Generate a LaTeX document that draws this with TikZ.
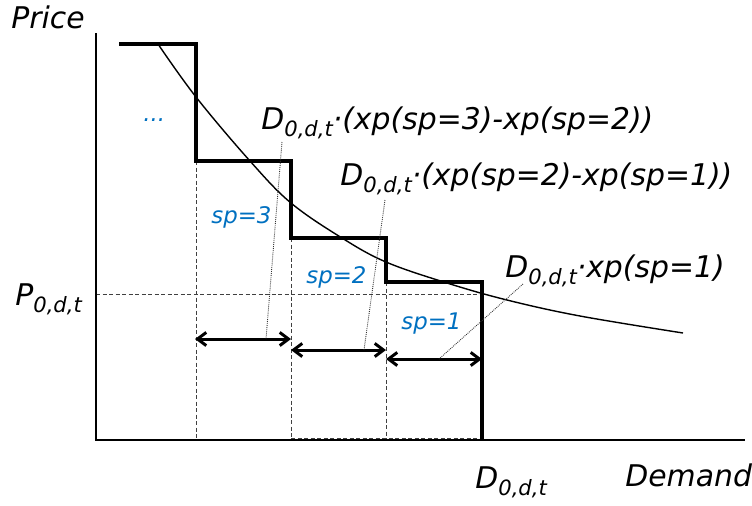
\documentclass[tikz,border=0pt]{standalone}
\usepackage{fontspec}
\setmainfont{DejaVu Sans}
\usetikzlibrary{arrows.meta}

\definecolor{spblue}{HTML}{0070C0}
\newcommand{\dsub}[1]{\raisebox{-4.5pt}{\fontsize{12}{14}\selectfont #1}}
\newcommand{\Dodt}{D\dsub{0,d,t}}

\begin{document}
\begin{tikzpicture}[x=0.02cm, y=-0.02cm,
    axisline/.style={line width=1.5pt},
    stepline/.style={line width=1.8pt},
    guide/.style={line width=0.55pt, dash pattern=on 2.3pt off 1.4pt, black!75},
    leader/.style={line width=0.5pt, dash pattern=on 0.5pt off 0.6pt, black!80},
    dimarrow/.style={line width=1.7pt,
      {Straight Barb[length=5pt,width=7.5pt]}-{Straight Barb[length=5pt,width=7.5pt]}},
    biglabel/.style={font=\fontsize{17}{20}\selectfont\itshape, inner sep=0pt, anchor=base west},
    splabel/.style={font=\fontsize{13}{15}\selectfont\itshape, text=spblue, inner sep=0pt, anchor=base west}]

  \useasboundingbox (0,0) rectangle (752,505);

  % axes and step corners
  \coordinate (o)    at (96,440);
  \coordinate (ytop) at (96,33);
  \coordinate (xend) at (745,440);
  \coordinate (s1) at (119,44);
  \coordinate (s2) at (196,44);
  \coordinate (s3) at (196,161);
  \coordinate (s4) at (291,161);
  \coordinate (s5) at (291,238);
  \coordinate (s6) at (386,238);
  \coordinate (s7) at (386,282);
  \coordinate (s8) at (482,282);
  \coordinate (s9) at (482,440);
  \coordinate (p1) at (96,294);
  \coordinate (p2) at (482,294);
  \coordinate (b1) at (291,438.5);
  \coordinate (b2) at (482,438.5);

  % guide lines
  \draw[guide] (s3) -- (s3 |- o);
  \draw[guide] (s5) -- (s5 |- o);
  \draw[guide] (s7) -- (s7 |- o);
  \draw[guide] (p1) -- (p2);
  \draw[guide] (b1) -- (b2);

  % axes
  \draw[axisline] (ytop) -- (o) -- (xend);

  % stepwise bid curve
  \draw[stepline] (s1) -- (s2) -- (s3) -- (s4) -- (s5) -- (s6) -- (s7) -- (s8) -- (s9);

  % demand curve
  \draw[line width=0.8pt] plot[smooth, tension=0.6] coordinates {
    (158,44) (196,97) (250,161) (291,203) (342,238) (386,262)
    (447,283) (507,300) (580,316) (683,333)};

  % segment widths
  \coordinate (a1) at (195,339);
  \coordinate (a2) at (291,339);
  \coordinate (a3) at (291,350);
  \coordinate (a4) at (386,350);
  \coordinate (a5) at (386,359);
  \coordinate (a6) at (482,359);
  \draw[dimarrow] (a1) -- (a2);
  \draw[dimarrow] (a3) -- (a4);
  \draw[dimarrow] (a5) -- (a6);

  % labels
  \node[biglabel] (price)  at (11,28)   {Price};
  \node[biglabel] (demand) at (625,486) {Demand};
  \node[biglabel] (pzero)  at (15,305)  {P\dsub{0,d,t}};
  \node[biglabel] (dzero)  at (475,488) {\Dodt};
  \node[biglabel] (lab1) at (261,129) {\Dodt·(xp(sp=3)-xp(sp=2))};
  \node[biglabel] (lab2) at (340,185) {\Dodt·(xp(sp=2)-xp(sp=1))};
  \node[biglabel] (lab3) at (505,277) {\Dodt·xp(sp=1)};

  \node[splabel] (sp3) at (211,223) {sp=3};
  \node[splabel] (sp2) at (306,283) {sp=2};
  \node[splabel] (sp1) at (401,329) {sp=1};
  \node[splabel] (dots) at (143,121) {...};

  % leaders
  \coordinate (l1) at (282,142);
  \coordinate (m1) at (266,339);
  \coordinate (l2) at (385,200);
  \coordinate (m2) at (364,350);
  \coordinate (l3) at (523,284);
  \coordinate (m3) at (439,359);
  \draw[leader] (l1) -- (m1);
  \draw[leader] (l2) -- (m2);
  \draw[leader] (l3) -- (m3);

\end{tikzpicture}
\end{document}
